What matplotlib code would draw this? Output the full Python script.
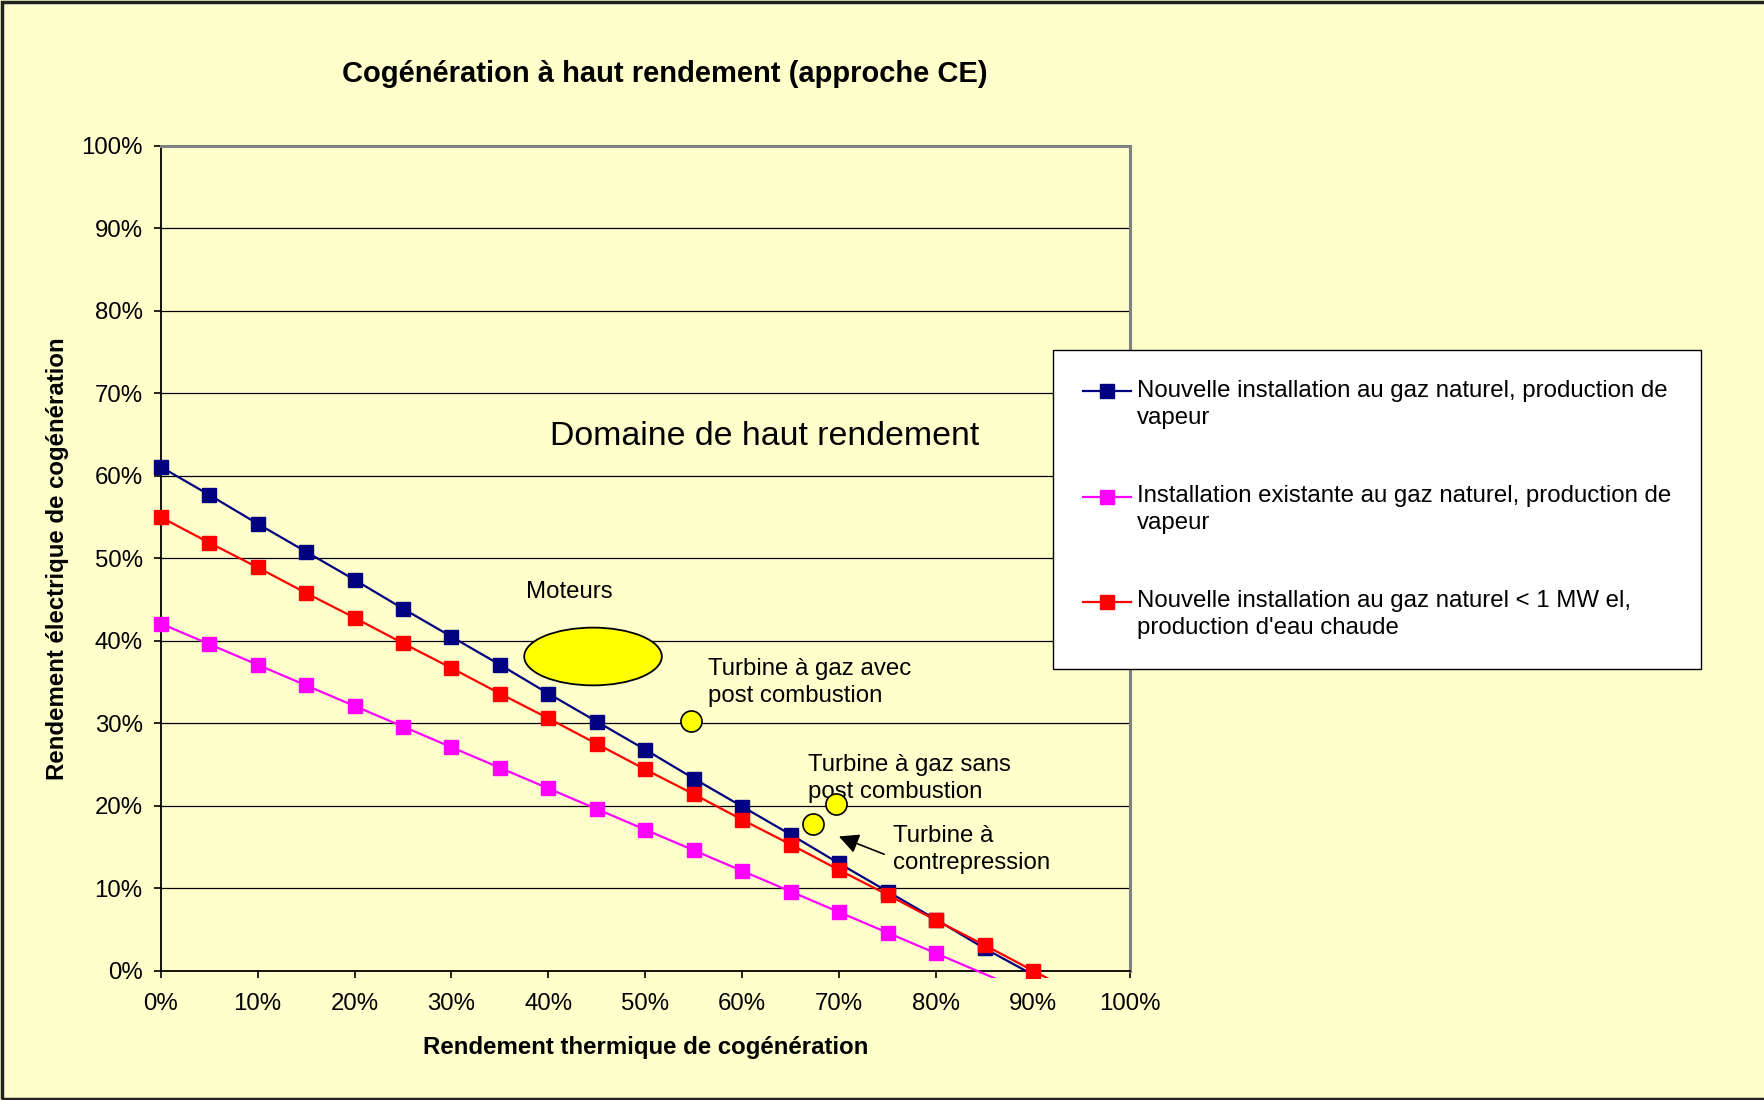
import matplotlib.pyplot as plt
from matplotlib.patches import Ellipse, Rectangle

plt.rcParams['font.family'] = ['Liberation Sans', 'DejaVu Sans']

# rendement thermique (%)
thermique = [0, 5, 10, 15, 20, 25, 30, 35, 40, 45, 50, 55, 60, 65, 70, 75, 80, 85, 90, 95]

# rendement electrique (%)
nouvelle_vapeur = [61.1, 57.7, 54.2, 50.8, 47.4, 43.9, 40.5, 37.1, 33.6, 30.2,
                   26.8, 23.3, 19.9, 16.5, 13.0, 9.6, 6.2, 2.7, -0.5, -4.0]
existante_vapeur = [42.1, 39.6, 37.1, 34.6, 32.1, 29.6, 27.1, 24.6, 22.1, 19.6,
                    17.1, 14.6, 12.1, 9.6, 7.1, 4.6, 2.1, -0.4, -2.9, -5.4]
petite_eau_chaude = [55.0, 51.9, 48.9, 45.8, 42.8, 39.7, 36.7, 33.6, 30.6, 27.5,
                     24.4, 21.4, 18.3, 15.3, 12.2, 9.2, 6.1, 3.1, 0.0, -3.1]

noms = ["Nouvelle installation au gaz naturel, production de\nvapeur",
        "Installation existante au gaz naturel, production de\nvapeur",
        "Nouvelle installation au gaz naturel < 1 MW el,\nproduction d'eau chaude"]
couleurs = ['#000080', '#FF00FF', '#FF0000']

# domaines des technologies
moteurs_centre = (44.6, 38.1)
moteurs_taille = (14.2, 7.0)
turbines_x = [54.7, 67.3, 69.7]
turbines_y = [30.3, 17.8, 20.2]

fond = '#FFFFCC'
fig = plt.figure(figsize=(17.65, 11.0), dpi=100, facecolor=fond)
ax = fig.add_axes([160.7 / 1765, 1 - 970.7 / 1100, (1130 - 160.7) / 1765, (970.7 - 146) / 1100])
ax.set_facecolor(fond)

clip = Rectangle((-5, -0.9), 110, 105, transform=ax.transData)
for valeurs, nom, c in zip([nouvelle_vapeur, existante_vapeur, petite_eau_chaude], noms, couleurs):
    visibles = [i for i, v in enumerate(valeurs) if v >= 0]
    ligne, = ax.plot(thermique, valeurs, color=c, lw=1.6, marker='s', ms=10.5,
                     markevery=visibles, label=nom, zorder=3)
    ligne.set_clip_path(clip)

ax.add_patch(Ellipse(moteurs_centre, moteurs_taille[0], moteurs_taille[1],
                     facecolor='#FFFF00', edgecolor='black', lw=1.3, zorder=4))
ax.scatter(turbines_x, turbines_y, s=230, color='#FFFF00', edgecolor='black', lw=1.2, zorder=4)

txt = 17.3
ax.text(62.3, 64.8, "Domaine de haut rendement", fontsize=24.4, ha='center', va='center')
ax.text(37.7, 45.9, "Moteurs", fontsize=txt, ha='left', va='center')
ax.text(56.5, 34.9, "Turbine à gaz avec\npost combustion", fontsize=txt, ha='left', va='center',
        linespacing=1.3)
ax.text(66.8, 23.3, "Turbine à gaz sans\npost combustion", fontsize=txt, ha='left', va='center',
        linespacing=1.3)
ax.text(75.6, 14.7, "Turbine à\ncontrepression", fontsize=txt, ha='left', va='center',
        linespacing=1.3)
ax.annotate("", xy=(69.7, 16.4), xytext=(74.9, 14.0),
            arrowprops=dict(arrowstyle='-|>', color='black', lw=1.2, mutation_scale=30))

ax.set_xlim(0, 100)
ax.set_ylim(0, 100)
ax.set_xticks(range(0, 101, 10))
ax.set_yticks(range(0, 101, 10))
ax.set_xticklabels([f"{t}%" for t in range(0, 101, 10)])
ax.set_yticklabels([f"{t}%" for t in range(0, 101, 10)])
ax.tick_params(axis='both', labelsize=txt, length=5, width=1.2, direction='out')
ax.tick_params(axis='x', pad=11)
ax.tick_params(axis='y', pad=8)
ax.grid(axis='y', color='black', lw=0.9)
ax.set_axisbelow(True)
for s in ['top', 'right']:
    ax.spines[s].set_color('#808080')
    ax.spines[s].set_linewidth(2.2)
for s in ['left', 'bottom']:
    ax.spines[s].set_color('black')
    ax.spines[s].set_linewidth(1.3)

ax.set_xlabel("Rendement thermique de cogénération", fontsize=txt, fontweight='bold', labelpad=15)
ax.set_ylabel("Rendement électrique de cogénération", fontsize=txt, fontweight='bold', labelpad=9)
fig.text(665 / 1765, 1 - 74 / 1100, "Cogénération à haut rendement (approche CE)",
         fontsize=21, fontweight='bold', ha='center', va='center')

leg = ax.legend(loc='upper left', bbox_to_anchor=(1052.5 / 1765, 1 - 350 / 1100),
                bbox_transform=fig.transFigure, fontsize=txt, frameon=True, fancybox=False,
                borderpad=1.25, handlelength=2.0, handletextpad=0.25, labelspacing=2.33,
                borderaxespad=0)
for t in leg.get_texts():
    t.set_linespacing(1.3)
# le repere de legende est aligne sur la premiere ligne du texte
for h in leg.legend_handles:
    h.set_ydata([y + 9.5 for y in h.get_ydata()])
leg.get_frame().set_edgecolor('black')
leg.get_frame().set_linewidth(1.0)
leg.get_frame().set_facecolor('white')
leg.get_frame().set_alpha(1)

fig.patches.append(Rectangle((0.001, 0.001), 1.2, 0.997, transform=fig.transFigure,
                             fill=False, edgecolor='#222222', lw=2.5))

fig.savefig("out.png", dpi=100, facecolor=fond)
